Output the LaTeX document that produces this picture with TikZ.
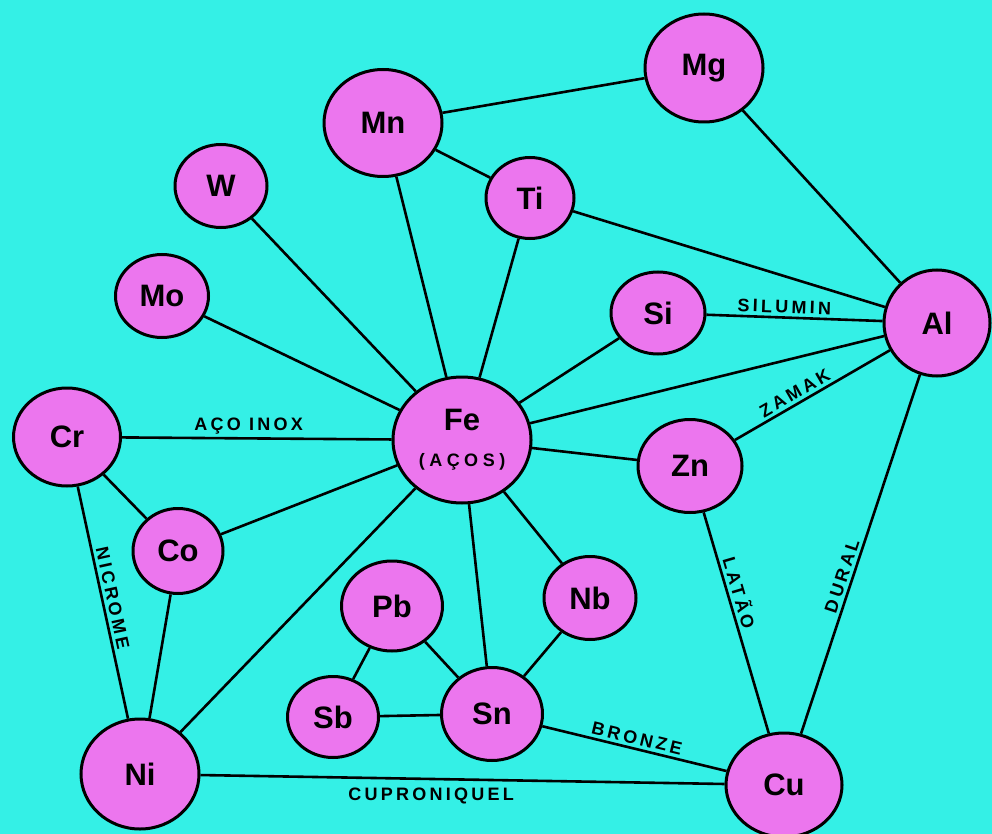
\documentclass[tikz,border=0pt]{standalone}
\usepackage{fontspec}
\setmainfont{Liberation Sans}
\usepackage{tikz}
\usetikzlibrary{shapes.geometric}
\definecolor{sea}{RGB}{52,240,230}
\definecolor{lilac}{RGB}{236,118,238}
\newcommand{\steelfont}{\fontsize{18}{20}\selectfont\bfseries\addfontfeature{LetterSpace=25}}
\tikzstyle{alloys}=[x=1pt, y=-1pt]
\tikzstyle{el}=[ellipse, draw, line width=3pt, fill=lilac, inner sep=0pt, align=center, font=\fontsize{31}{33}\selectfont\bfseries]
\tikzstyle{link}=[-, line width=2.6pt]
\tikzstyle{alloy}=[inner sep=3pt, font=\fontsize{18}{20}\selectfont\bfseries\addfontfeature{LetterSpace=18}]

\begin{document}
\begin{tikzpicture}[alloys]
	%The background
	\fill[sea] (0,0) rectangle (992,834);
	\useasboundingbox (0,0) rectangle (992,834);
	
	%The elements
	\draw (704,68) node[el, minimum width=118pt, minimum height=108pt] (mg) {Mg};
	\draw (383,123) node[el, minimum width=118pt, minimum height=107pt] (mn) {Mn};
	\draw (221,186) node[el, minimum width=92pt, minimum height=83pt] (w) {W};
	\draw (530,198) node[el, minimum width=88pt, minimum height=81pt] (ti) {Ti};
	\draw (162,296) node[el, minimum width=93pt, minimum height=83pt] (mo) {Mo};
	\draw (658,313) node[el, minimum width=94pt, minimum height=82pt] (si) {Si};
	\draw (937,323) node[el, minimum width=106pt, minimum height=106pt] (al) {Al};
	\draw (462,440) node[el, minimum width=138pt, minimum height=126pt] (fe) {Fe\\[3pt]{\steelfont (AÇOS)}};
	\draw (67,437) node[el, minimum width=107pt, minimum height=98pt] (cr) {Cr};
	\draw (690,466) node[el, minimum width=104pt, minimum height=93pt] (zn) {Zn};
	\draw (178,551) node[el, minimum width=90pt, minimum height=85pt] (co) {Co};
	\draw (590,598) node[el, minimum width=92pt, minimum height=83pt] (nb) {Nb};
	\draw (392,606) node[el, minimum width=101pt, minimum height=90pt] (pb) {Pb};
	\draw (333,717) node[el, minimum width=91pt, minimum height=81pt] (sb) {Sb};
	\draw (492,714) node[el, minimum width=101pt, minimum height=93pt] (sn) {Sn};
	\draw (140,774) node[el, minimum width=118pt, minimum height=110pt] (ni) {Ni};
	\draw (784,785) node[el, minimum width=116pt, minimum height=104pt] (cu) {Cu};
	
	%The plain links
	\draw[link] (mn) -- (mg);
	\draw[link] (mn) -- (ti);
	\draw[link] (mn) -- (fe);
	\draw[link] (w) -- (fe);
	\draw[link] (ti) -- (fe);
	\draw[link] (ti) -- (al);
	\draw[link] (mg) -- (al);
	\draw[link] (mo) -- (fe);
	\draw[link] (si) -- (fe);
	\draw[link] (fe) -- (al);
	\draw[link] (fe) -- (zn);
	\draw[link] (fe) -- (co);
	\draw[link] (fe) -- (ni);
	\draw[link] (fe) -- (nb);
	\draw[link] (fe) -- (sn);
	\draw[link] (cr) -- (co);
	\draw[link] (co) -- (ni);
	\draw[link] (pb) -- (sb);
	\draw[link] (pb) -- (sn);
	\draw[link] (sb) -- (sn);
	\draw[link] (sn) -- (nb);
	
	%The named alloys
	\draw[link] (cr) -- node[alloy, above, pos=0.47] {AÇO INOX} (fe);
	\draw[link] (si) -- node[alloy, above, sloped, pos=0.44] {SILUMIN} (al);
	\draw[link] (zn) -- node[alloy, above, sloped, pos=0.42] {ZAMAK} (al);
	\draw[link] (sn) -- node[alloy, above, sloped, pos=0.5] {BRONZE} (cu);
	\draw[link] (ni) -- node[alloy, below, pos=0.44, yshift=-5pt] {CUPRONIQUEL} (cu);
	\draw[link] (zn) -- node[alloy, above, sloped, pos=0.38] {LATÃO} (cu);
	\draw[link] (cu) -- node[alloy, above, sloped, pos=0.43] {DURAL} (al);
	\draw[link] (cr) -- node[alloy, above, sloped, pos=0.49] {NICROME} (ni);
\end{tikzpicture}
\end{document}
